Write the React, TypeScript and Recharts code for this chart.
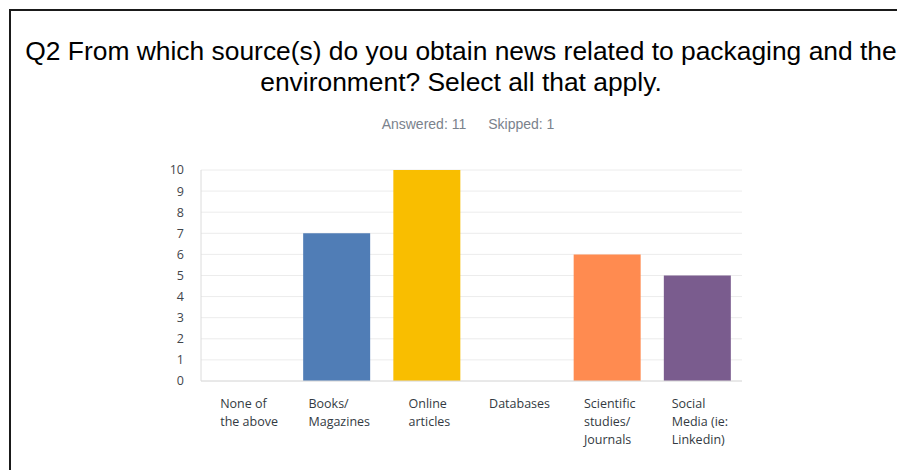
import { BarChart, Bar, XAxis, YAxis, CartesianGrid, Cell } from 'recharts'

const categories = [
  'None of\nthe above',
  'Books/\nMagazines',
  'Online\narticles',
  'Databases',
  'Scientific\nstudies/\nJournals',
  'Social\nMedia (ie:\nLinkedin)',
]
const responses = [0, 7, 10, 0, 6, 5]
const barColors = ['#507db6', '#507db6', '#f9be00', '#507db6', '#ff8b50', '#7a5c8e']
const yTicks = [0, 1, 2, 3, 4, 5, 6, 7, 8, 9, 10]

const data = categories.map((name, i) => ({ name, value: responses[i] }))

// labels are left aligned but the block sits centred under the bar
function CategoryTick({ x, y, payload }: any) {
  return (
    <foreignObject x={x - 60} y={y + 6} width={126} height={70}>
      <div style={{ display: 'flex', justifyContent: 'center' }}>
        <div
          style={{
            whiteSpace: 'pre-line',
            textAlign: 'left',
            fontFamily: '"Open Sans", sans-serif',
            fontSize: 12.5,
            lineHeight: '18px',
            color: '#333a42',
          }}
        >
          {payload.value}
        </div>
      </div>
    </foreignObject>
  )
}

export default function App() {
  return (
    <div style={{ position: 'fixed', left: 0, top: 0, width: 897, height: 470, overflow: 'hidden', background: '#fff' }}>
      {/* frame */}
      <div
        style={{
          position: 'absolute',
          left: 9,
          top: 9,
          width: 900,
          height: 480,
          borderLeft: '2px solid #1a1a1a',
          borderTop: '2px solid #1a1a1a',
        }}
      />
      <div
        style={{
          position: 'absolute',
          left: 0,
          top: 36,
          width: 922,
          textAlign: 'center',
          fontFamily: '"Liberation Sans", Arial, sans-serif',
          fontSize: 26.4,
          lineHeight: '31px',
          color: '#000',
        }}
      >
        Q2 From which source(s) do you obtain news related to packaging and the
        <br />
        environment? Select all that apply.
      </div>
      <div
        style={{
          position: 'absolute',
          left: 0,
          top: 116,
          width: 936,
          textAlign: 'center',
          fontFamily: '"Liberation Sans", Arial, sans-serif',
          fontSize: 14,
          color: '#7a828c',
        }}
      >
        <span>Answered: 11</span>
        <span style={{ marginLeft: 22 }}>Skipped: 1</span>
      </div>
      <div style={{ position: 'absolute', left: 0, top: 0 }}>
        <BarChart
          width={897}
          height={470}
          data={data}
          margin={{ top: 170, right: 155, left: 161, bottom: 9 }}
        >
          <CartesianGrid vertical={false} stroke="#ececec" />
          <XAxis
            dataKey="name"
            interval={0}
            height={80}
            tickLine={false}
            axisLine={{ stroke: '#dcdcdc' }}
            tick={<CategoryTick />}
          />
          <YAxis
            width={40}
            domain={[0, 10]}
            ticks={yTicks}
            interval={0}
            tickLine={false}
            axisLine={{ stroke: '#dcdcdc' }}
            tickMargin={11}
            tick={{ fill: '#3f454b', fontSize: 12.5, fontFamily: '"Open Sans", sans-serif' }}
          />
          <Bar dataKey="value" barSize={67} isAnimationActive={false}>
            {data.map((d, i) => (
              <Cell key={d.name} fill={barColors[i]} />
            ))}
          </Bar>
        </BarChart>
      </div>
    </div>
  )
}
